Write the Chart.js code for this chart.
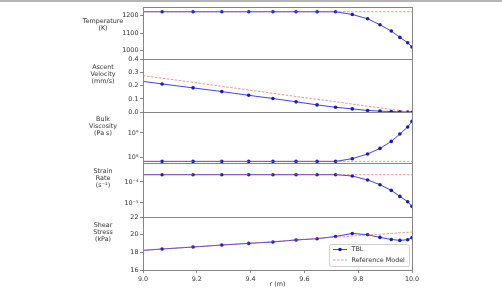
<!DOCTYPE html>
<html><head><meta charset="utf-8">
<script src="https://cdn.jsdelivr.net/npm/chart.js@4/dist/chart.umd.min.js"></script>
<style>
html,body{margin:0;padding:0;background:#fff;}
#wrap{position:relative;width:502px;height:291px;overflow:hidden;}
#topline{position:absolute;left:0;top:0;width:502px;height:2px;background:#b4b4b4;}
canvas{display:block;}
</style></head><body>
<div id="wrap"><canvas id="c" width="502" height="291"></canvas><div id="topline"></div></div>
<script>
// ---- data ----
const radius      = [9.0, 9.071, 9.186, 9.293, 9.393, 9.483, 9.569, 9.647, 9.716, 9.778, 9.835, 9.881, 9.923, 9.955, 9.984, 10.0];
const tempTBL     = [1221, 1221, 1221, 1221, 1221, 1221, 1221, 1221, 1221, 1205.7, 1181, 1147, 1111.6, 1075.4, 1045.3, 1021];
const tempRef     = [1221, 1221, 1221, 1221, 1221, 1221, 1221, 1221, 1221, 1221, 1221, 1221, 1221, 1221, 1221, 1221];
const velTBL      = [0.232, 0.2125, 0.183, 0.155, 0.127, 0.103, 0.078, 0.055, 0.037, 0.025, 0.013, 0.008, 0.005, 0.003, 0.0015, 0.0];
const velRef      = [0.275, 0.256, 0.224, 0.195, 0.167, 0.142, 0.118, 0.097, 0.078, 0.061, 0.045, 0.033, 0.021, 0.012, 0.004, 0.0];
const viscTBL     = [6.86e7, 6.86e7, 6.86e7, 6.86e7, 6.86e7, 6.86e7, 6.86e7, 6.86e7, 6.86e7, 8.85e7, 1.38e8, 2.34e8, 4.53e8, 9.1e8, 1.76e9, 2.99e9];
const viscRef     = [6.86e7, 6.86e7, 6.86e7, 6.86e7, 6.86e7, 6.86e7, 6.86e7, 6.86e7, 6.86e7, 6.86e7, 6.86e7, 6.86e7, 6.86e7, 6.86e7, 6.86e7, 6.86e7];
const strainTBL   = [2.23e-4, 2.23e-4, 2.23e-4, 2.23e-4, 2.23e-4, 2.23e-4, 2.23e-4, 2.23e-4, 2.23e-4, 1.93e-4, 1.245e-4, 7.43e-5, 3.98e-5, 2.06e-5, 1.15e-5, 6.9e-6];
const strainRef   = [2.23e-4, 2.23e-4, 2.23e-4, 2.23e-4, 2.23e-4, 2.23e-4, 2.23e-4, 2.23e-4, 2.23e-4, 2.23e-4, 2.23e-4, 2.23e-4, 2.23e-4, 2.23e-4, 2.23e-4, 2.23e-4];
const shearTBL    = [18.22, 18.38, 18.60, 18.83, 19.01, 19.17, 19.40, 19.54, 19.80, 20.14, 19.99, 19.69, 19.46, 19.35, 19.43, 19.66];
const shearRef    = [18.22, 18.37, 18.61, 18.83, 19.04, 19.22, 19.40, 19.57, 19.71, 19.84, 19.96, 20.05, 20.14, 20.21, 20.27, 20.30];

const xTicks      = [9.0, 9.2, 9.4, 9.6, 9.8, 10.0];
const tempTicks   = [1000, 1100, 1200];
const velTicks    = [0.0, 0.1, 0.2, 0.3, 0.4];
const viscTicks   = [1e8, 1e9];
const strainTicks = [1e-5, 1e-4];
const shearTicks  = [16, 18, 20, 22];

const panelLabels = {
  yT: ['Temperature', '(K)'],
  yA: ['Ascent', 'Velocity', '(mm/s)'],
  yV: ['Bulk', 'Viscosity', '(Pa s)'],
  yR: ['Strain', 'Rate', '(s\u207B\u00B9)'],
  yS: ['Shear', 'Stress', '(kPa)']
};
const seriesNames = ['TBL', 'Reference Model'];

// ---- styles ----
const FONT = {family: '"DejaVu Sans", sans-serif', size: 6.4};
const TXT = '#333333';
const AXC = '#858585';
const BLUE_LINE = 'rgba(45,45,225,0.9)';
const BLUE_PT = '#1a1ab0';
const RED = 'rgba(225,95,95,0.85)';
const X_MIN = 9.0, X_MAX = 10.0;

const toPts = ys => radius.map((r, i) => ({x: r, y: ys[i]}));
function tbl(ys, axis) {
  return {label: seriesNames[0], data: toPts(ys), yAxisID: axis, order: 1,
    borderColor: BLUE_LINE, borderWidth: 1, backgroundColor: BLUE_PT,
    pointBackgroundColor: BLUE_PT, pointBorderWidth: 0,
    pointRadius: c => (c.raw && c.raw.x > X_MIN ? 1.8 : 0), tension: 0, fill: false};
}
function ref(ys, axis) {
  return {label: seriesNames[1], data: toPts(ys), yAxisID: axis, order: 0,
    borderColor: RED, borderWidth: 0.8, borderDash: [2.5, 1.5], pointRadius: 0, tension: 0, fill: false};
}

const sup = {'-': '\u207B', '0': '\u2070', '1': '\u00B9', '2': '\u00B2', '3': '\u00B3', '4': '\u2074', '5': '\u2075', '6': '\u2076', '7': '\u2077', '8': '\u2078', '9': '\u2079'};
const powLabel = v => '10' + String(Math.round(Math.log10(v))).split('').map(ch => sup[ch]).join('');

function yScale(type, min, max, ticks, fmt, weight) {
  return {
    type, min, max, position: 'left', stack: 'panels', stackWeight: weight, offset: false,
    afterBuildTicks: s => { s.ticks = ticks.map(v => ({value: v})); },
    afterFit: s => { s.width = 30; },
    ticks: {font: FONT, color: TXT, padding: 1.5, autoSkip: false, callback: fmt},
    grid: {drawOnChartArea: false, drawTicks: true, tickLength: 3, color: AXC, lineWidth: 1},
    border: {display: true, color: AXC, width: 1}
  };
}

const framePlugin = {
  id: 'frame',
  afterDraw(chart) {
    const ctx = chart.ctx, ca = chart.chartArea;
    ctx.save();
    ctx.strokeStyle = AXC; ctx.lineWidth = 1;
    Object.keys(panelLabels).forEach(id => {
      const s = chart.scales[id];
      ctx.strokeRect(Math.round(ca.left) + 0.5, Math.round(s.top) + 0.5, Math.round(ca.right - ca.left), Math.round(s.bottom - s.top));
    });
    // panel labels
    ctx.fillStyle = TXT;
    ctx.font = FONT.size + 'px ' + FONT.family;
    ctx.textAlign = 'center'; ctx.textBaseline = 'middle';
    Object.entries(panelLabels).forEach(([id, lines]) => {
      const s = chart.scales[id];
      const mid = (s.top + s.bottom) / 2;
      const n = lines.length;
      lines.forEach((t, i) => ctx.fillText(t, 103, mid - 4.5 - (n - 1 - i) * 7));
    });
    // legend in the bottom panel
    const s = chart.scales.yS;
    const w = 80, h = 22;
    const lx = ca.right - 3 - w, ly = s.bottom - 4 - h;
    ctx.fillStyle = 'rgba(255,255,255,0.85)';
    ctx.strokeStyle = '#d0d0d0';
    ctx.beginPath();
    if (ctx.roundRect) ctx.roundRect(lx + 0.5, ly + 0.5, w, h, 2); else ctx.rect(lx + 0.5, ly + 0.5, w, h);
    ctx.fill(); ctx.stroke();
    // TBL entry
    ctx.strokeStyle = BLUE_LINE; ctx.lineWidth = 1; ctx.setLineDash([]);
    ctx.beginPath(); ctx.moveTo(lx + 4, ly + 5.5); ctx.lineTo(lx + 18, ly + 5.5); ctx.stroke();
    ctx.fillStyle = BLUE_PT; ctx.beginPath(); ctx.arc(lx + 11, ly + 5.5, 1.8, 0, Math.PI * 2); ctx.fill();
    // Reference entry
    ctx.strokeStyle = RED; ctx.lineWidth = 0.8; ctx.setLineDash([2.5, 1.5]);
    ctx.beginPath(); ctx.moveTo(lx + 4, ly + 16); ctx.lineTo(lx + 18, ly + 16); ctx.stroke();
    ctx.setLineDash([]);
    ctx.fillStyle = TXT; ctx.textAlign = 'left';
    ctx.fillText(seriesNames[0], lx + 22.5, ly + 5.5);
    ctx.fillText(seriesNames[1], lx + 22.5, ly + 16);
    ctx.restore();
  }
};

new Chart(document.getElementById('c'), {
  type: 'line',
  data: {datasets: [
    tbl(shearTBL, 'yS'), ref(shearRef, 'yS'),
    tbl(strainTBL, 'yR'), ref(strainRef, 'yR'),
    tbl(viscTBL, 'yV'), ref(viscRef, 'yV'),
    tbl(velTBL, 'yA'), ref(velRef, 'yA'),
    tbl(tempTBL, 'yT'), ref(tempRef, 'yT')
  ]},
  options: {
    responsive: false, animation: false, devicePixelRatio: 1,
    layout: {padding: {left: 113, right: 90, top: 7, bottom: 0}},
    plugins: {legend: {display: false}, tooltip: {enabled: false}},
    scales: {
      x: {
        type: 'linear', min: X_MIN, max: X_MAX,
        afterBuildTicks: s => { s.ticks = xTicks.map(v => ({value: v})); },
        afterFit: s => { s.height = 21; },
        ticks: {font: FONT, color: TXT, padding: 3, autoSkip: false, maxRotation: 0, callback: v => Number(v).toFixed(1)},
        grid: {drawOnChartArea: false, drawTicks: true, tickLength: 3, color: AXC},
        border: {display: true, color: AXC},
        title: {display: true, text: 'r (m)', font: FONT, color: TXT, padding: {top: 0, bottom: 2.5}}
      },
      yS: yScale('linear', 16, 22, shearTicks, v => String(v), 53),
      yR: yScale('logarithmic', 2.15e-6, 7.85e-4, strainTicks, powLabel, 53.8),
      yV: yScale('logarithmic', 5.78e7, 7.11e9, viscTicks, powLabel, 51),
      yA: yScale('linear', 0, 0.4, velTicks, v => Number(v).toFixed(1), 53.2),
      yT: yScale('linear', 953, 1248, tempTicks, v => String(v), 52)
    }
  },
  plugins: [framePlugin]
});
</script>
</body></html>
